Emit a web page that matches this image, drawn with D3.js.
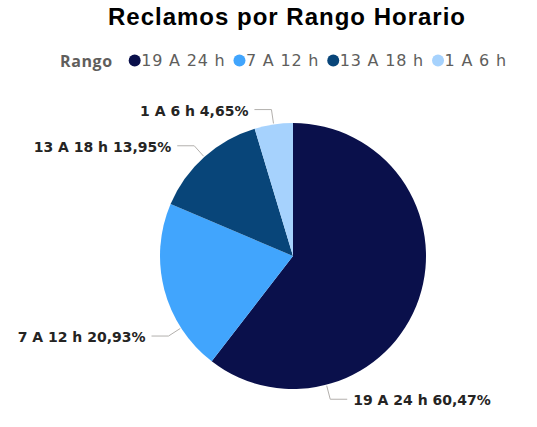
<!DOCTYPE html>
<html>
<head>
<meta charset="utf-8">
<script src="https://cdn.jsdelivr.net/npm/d3@7"></script>
<style>
  body { margin: 0; background: #fff; }
  svg { display: block; }
</style>
</head>
<body>
<div id="chart"></div>
<script>
// datos
const rangos = ["19 A 24 h", "7 A 12 h", "13 A 18 h", "1 A 6 h"];
const reclamos = [26, 9, 6, 2];
const colores = ["#0a104b", "#41a5fd", "#084579", "#a6d2fd"];
// donde cae la linea de etiqueta dentro de cada porcion (0..1)
const posEtiqueta = [0.76, 0.26, 0.5, 0.5];

const width = 537, height = 427;
const cx = 293, cy = 256, radius = 133;

const svg = d3.select("#chart")
    .append("svg")
        .attr("width", width)
        .attr("height", height);

// titulo
svg.append("text")
    .attr("x", 287)
    .attr("y", 25)
    .attr("text-anchor", "middle")
    .attr("font-family", "Liberation Sans, Arial, sans-serif")
    .attr("font-weight", "bold")
    .attr("font-size", 24)
    .attr("letter-spacing", 1)
    .attr("fill", "#000")
    .text("Reclamos por Rango Horario");

// leyenda
const legend = svg.append("g").attr("transform", "translate(60, 60.5)");
const legTitle = legend.append("text")
    .attr("x", 0)
    .attr("dominant-baseline", "central")
    .attr("font-family", "Open Sans, sans-serif")
    .attr("font-weight", "bold")
    .attr("font-size", 16)
    .attr("letter-spacing", 0.6)
    .attr("fill", "#605e5c")
    .text("Rango");

let lx = legTitle.node().getComputedTextLength() + 22;
rangos.forEach((r, i) => {
    legend.append("circle")
        .attr("cx", lx)
        .attr("cy", 0)
        .attr("r", 6)
        .attr("fill", colores[i]);
    const t = legend.append("text")
        .attr("x", lx + 6.5)
        .attr("dominant-baseline", "central")
        .attr("font-family", "DejaVu Sans, sans-serif")
        .attr("font-size", 16)
        .attr("letter-spacing", 0.8)
        .attr("fill", "#605e5c")
        .text(r);
    lx = lx + 6.5 + t.node().getComputedTextLength() + 14;
});

// pie
const total = d3.sum(reclamos);
const pie = d3.pie().sort(null).value(d => d);
const arcs = pie(reclamos);
const arc = d3.arc().innerRadius(0).outerRadius(radius);

const g = svg.append("g").attr("transform", `translate(${cx}, ${cy})`);

g.selectAll("path.slice")
    .data(arcs)
    .enter()
    .append("path")
    .attr("class", "slice")
    .attr("d", arc)
    .attr("fill", (d, i) => colores[i]);

// etiquetas con lineas guia
const fmt = v => (v * 100).toFixed(2).replace(".", ",") + "%";
const punto = (a, r) => [Math.sin(a) * r, -Math.cos(a) * r];

arcs.forEach((d, i) => {
    const a = d.startAngle + (d.endAngle - d.startAngle) * posEtiqueta[i];
    const p0 = punto(a, radius + 1);
    const p1 = punto(a, radius + 15);
    const dir = p1[0] < 0 ? -1 : 1;
    const p2 = [p1[0] + dir * 17, p1[1]];

    g.append("polyline")
        .attr("points", [p0, p1, p2].map(p => p.join(",")).join(" "))
        .attr("fill", "none")
        .attr("stroke", "#b3b0ad")
        .attr("stroke-width", 1);

    g.append("text")
        .attr("x", p2[0] + dir * 6)
        .attr("y", p2[1] + 1)
        .attr("text-anchor", dir < 0 ? "end" : "start")
        .attr("dominant-baseline", "central")
        .attr("font-family", "DejaVu Sans, sans-serif")
        .attr("font-weight", "bold")
        .attr("font-size", 14)
        .attr("fill", "#252423")
        .text(rangos[i] + " " + fmt(d.data / total));
});
</script>
</body>
</html>
